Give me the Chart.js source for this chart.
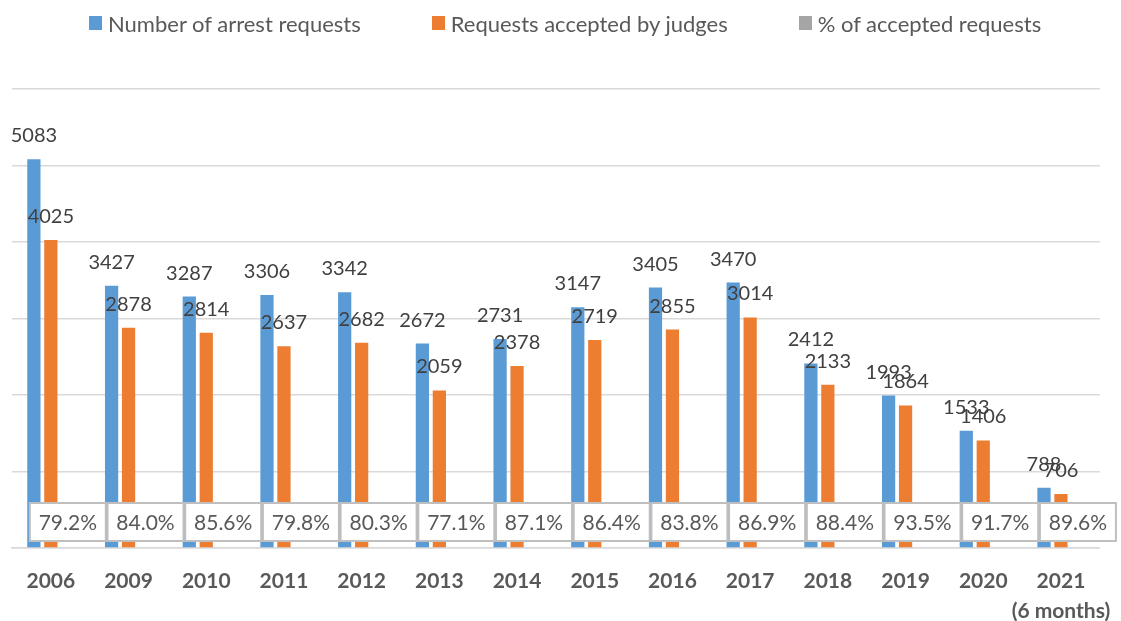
<!DOCTYPE html>
<html lang="en">
	<head>
		<meta charset="utf-8">
		<title>Arrest requests and acceptance by judges</title>
		<style>
			body { margin: 0; background: #FFF; font-family: Lato, sans-serif; }
			#wrap { position: relative; width: 1121px; height: 621px; }
			#legend { position: absolute; left: 89px; top: 9px; height: 28px; display: flex; align-items: center; font-size: 22px; color: #595959; white-space: nowrap; }
			.item { display: flex; align-items: center; margin-right: 71px; }
			.box { width: 13px; height: 14px; margin-right: 6px; }
		</style>
		<script src="https://cdn.jsdelivr.net/npm/chart.js"></script>
	</head>
	<body>
		<div id="wrap">
			<div id="legend"></div>
			<canvas id="stats" width="1121" height="621"></canvas>
		</div>
		<script>
			const years = ["2006", "2009", "2010", "2011", "2012", "2013", "2014", "2015", "2016", "2017", "2018", "2019", "2020", ["2021", "(6 months)"]];
			const requests = [5083, 3427, 3287, 3306, 3342, 2672, 2731, 3147, 3405, 3470, 2412, 1993, 1533, 788];
			const accepted = [4025, 2878, 2814, 2637, 2682, 2059, 2378, 2719, 2855, 3014, 2133, 1864, 1406, 706];
			const percent = [79.2, 84.0, 85.6, 79.8, 80.3, 77.1, 87.1, 86.4, 83.8, 86.9, 88.4, 93.5, 91.7, 89.6];

			const series = [
				{ label: "Number of arrest requests", color: "#5B9BD5" },
				{ label: "Requests accepted by judges", color: "#ED7D31" },
				{ label: "% of accepted requests", color: "#A5A5A5" }
			];

			// legend as html, spacing like the original
			document.getElementById("legend").innerHTML = series.map(s =>
				"<div class=\"item\"><div class=\"box\" style=\"background:" + s.color + "\"></div>" + s.label + "</div>"
			).join("");

			const labelPlugin = {
				id: "barLabels",
				afterDatasetsDraw(chart) {
					const ctx = chart.ctx;
					ctx.save();
					ctx.font = "20px Lato";
					ctx.textAlign = "center";
					ctx.textBaseline = "alphabetic";
					ctx.fillStyle = "#404040";
					[0, 1].forEach(d => {
						chart.getDatasetMeta(d).data.forEach((bar, i) => {
							ctx.fillText(chart.data.datasets[d].data[i], bar.x, bar.y - 17);
						});
					});

					// percentage labels sit in boxes near the axis
					const cy = chart.chartArea.bottom - 26;
					const w = 76, h = 38;
					ctx.font = "21px Lato";
					chart.getDatasetMeta(2).data.forEach((bar, i) => {
						ctx.fillStyle = "#FFF";
						ctx.fillRect(bar.x - w / 2, cy - h / 2, w, h);
						ctx.strokeStyle = "#BFBFBF";
						ctx.lineWidth = 2;
						ctx.strokeRect(bar.x - w / 2, cy - h / 2, w, h);
						ctx.fillStyle = "#595959";
						ctx.textBaseline = "middle";
						ctx.fillText(percent[i].toFixed(1) + "%", bar.x, cy + 1);
					});
					ctx.restore();
				}
			};

			new Chart(document.getElementById("stats"), {
				type: "bar",
				data: {
					labels: years,
					datasets: [{
						label: series[0].label,
						backgroundColor: series[0].color,
						data: requests
					}, {
						label: series[1].label,
						backgroundColor: series[1].color,
						data: accepted
					}, {
						// only carries the percentage labels, bars are too small to see
						label: series[2].label,
						backgroundColor: "rgba(0,0,0,0)",
						data: percent.map(p => p / 100)
					}]
				},
				options: {
					responsive: false,
					animation: false,
					categoryPercentage: 0.655,
					barPercentage: 0.78,
					layout: { padding: { left: 12, right: 21, top: 89, bottom: 0 } },
					plugins: {
						legend: { display: false },
						tooltip: { enabled: false }
					},
					scales: {
						x: {
							grid: { display: false },
							border: { color: "#D9D9D9", width: 1.5 },
							ticks: {
								color: "#595959",
								font: { family: "Lato", size: 21, weight: "bold", lineHeight: 1.45 },
								padding: 10,
								maxRotation: 0,
								autoSkip: false
							},
							afterFit(scale) { scale.height = 73; }
						},
						y: {
							min: 0,
							max: 6000,
							ticks: { display: false, stepSize: 1000 },
							grid: { color: "#D9D9D9", lineWidth: 1.5, drawTicks: false },
							border: { display: false }
						}
					}
				},
				plugins: [labelPlugin]
			});
		</script>
	</body>
</html>
